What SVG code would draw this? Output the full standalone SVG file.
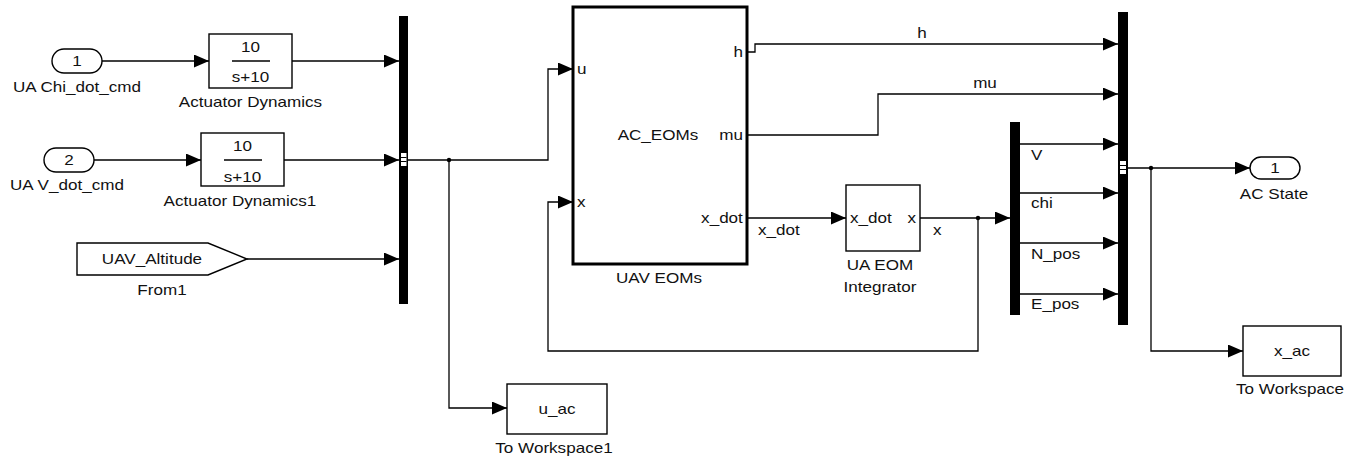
<svg xmlns="http://www.w3.org/2000/svg" width="1360" height="461" viewBox="0 0 1360 461">
<defs>
<marker id="ah" markerUnits="userSpaceOnUse" markerWidth="16" markerHeight="14" refX="15" refY="6.5" orient="auto">
<path d="M0,0 L15,6.5 L0,13 Z" fill="#000"/>
</marker>
<style>
text{font-family:"Liberation Sans",Arial,sans-serif;font-size:14px;fill:#111;dominant-baseline:central;transform-box:fill-box;}
.m{text-anchor:middle;transform-origin:center;transform:scaleX(1.22);}
.s{text-anchor:start;transform-origin:left center;transform:scaleX(1.22);}
.e{text-anchor:end;transform-origin:right center;transform:scaleX(1.22);}
.blk{fill:#fff;stroke:#000;stroke-width:1.4;}
.thick{fill:#fff;stroke:#000;stroke-width:3;}
.bar{fill:#000;}
.ln{fill:none;stroke:#000;stroke-width:1.3;}
.ar{marker-end:url(#ah);}
</style>
</defs>
<rect width="1360" height="461" fill="#fff"/>

<g id="connectors">
<path class="ln ar" d="M102,61 H209"/>
<path class="ln ar" d="M292,61 H399"/>
<path class="ln ar" d="M94,160 H201"/>
<path class="ln ar" d="M284,160 H399"/>
<path class="ln ar" d="M247,259 H399"/>
<path class="ln ar" d="M408,160 H548 V69 H573"/>
<path class="ln ar" d="M449,160 V408 H507"/>
<circle cx="449" cy="160" r="2.2" fill="#000"/>
<path class="ln ar" d="M747,52 H755 V44 H1118"/>
<path class="ln ar" d="M747,135 H878 V94 H1118"/>
<path class="ln ar" d="M747,218 H846"/>
<path class="ln ar" d="M920,218 H1010"/>
<path class="ln ar" d="M978,218 V351 H548 V202 H573"/>
<circle cx="978" cy="218" r="2.2" fill="#000"/>
<path class="ln ar" d="M1020,144 H1118"/>
<path class="ln ar" d="M1020,193 H1118"/>
<path class="ln ar" d="M1020,243 H1118"/>
<path class="ln ar" d="M1020,294 H1118"/>
<path class="ln ar" d="M1128,168 H1250"/>
<path class="ln ar" d="M1151,168 V351 H1243"/>
<circle cx="1151" cy="168" r="2.2" fill="#000"/>
<text class="m" x="922" y="33">h</text>
<text class="m" x="985" y="83">mu</text>
<text class="s" x="758" y="230">x_dot</text>
<text class="s" x="933" y="230">x</text>
<text class="s" x="1031" y="155">V</text>
<text class="s" x="1031" y="203">chi</text>
<text class="s" x="1031" y="254">N_pos</text>
<text class="s" x="1031" y="304">E_pos</text>
</g>

<g id="in1">
<rect class="blk" x="52" y="49" width="50" height="24" rx="12"/>
<text class="m" x="77" y="61">1</text>
<text class="m" x="77" y="87">UA Chi_dot_cmd</text>
</g>

<g id="in2">
<rect class="blk" x="44" y="148" width="50" height="24" rx="12"/>
<text class="m" x="69" y="160">2</text>
<text class="m" x="67" y="185">UA V_dot_cmd</text>
</g>

<g id="act1">
<rect class="blk" x="209" y="34" width="83" height="54"/>
<text class="m" x="250.5" y="47">10</text>
<line x1="232" y1="61" x2="270" y2="61" stroke="#000" stroke-width="1.3"/>
<text class="m" x="250.5" y="77">s+10</text>
<text class="m" x="250.5" y="102">Actuator Dynamics</text>
</g>

<g id="act2">
<rect class="blk" x="201" y="133" width="83" height="53"/>
<text class="m" x="242.5" y="146">10</text>
<line x1="224" y1="160" x2="262" y2="160" stroke="#000" stroke-width="1.3"/>
<text class="m" x="242.5" y="177">s+10</text>
<text class="m" x="240" y="201">Actuator Dynamics1</text>
</g>

<g id="from1">
<path class="blk" d="M77,243 H208 L247,259 L208,275 H77 Z"/>
<text class="m" x="152" y="259">UAV_Altitude</text>
<text class="m" x="162" y="290">From1</text>
</g>

<g id="mux1">
<rect class="bar" x="399" y="16" width="9" height="288"/>
<rect x="401" y="153" width="5.5" height="13" fill="#fff"/>
<line x1="401" y1="157.5" x2="406.5" y2="157.5" stroke="#000" stroke-width="1"/>
<line x1="401" y1="161.5" x2="406.5" y2="161.5" stroke="#000" stroke-width="1"/>
</g>

<g id="uav_eoms">
<rect class="thick" x="573" y="7" width="174" height="257"/>
<text class="s" x="577" y="69">u</text>
<text class="s" x="577" y="202">x</text>
<text class="e" x="743" y="52">h</text>
<text class="e" x="743" y="135">mu</text>
<text class="e" x="743" y="218">x_dot</text>
<text class="m" x="658" y="135">AC_EOMs</text>
<text class="m" x="659" y="278">UAV EOMs</text>
</g>

<g id="integrator">
<rect class="blk" x="846" y="185" width="74" height="66"/>
<text class="s" x="850" y="218">x_dot</text>
<text class="e" x="916" y="218">x</text>
<text class="m" x="880" y="265">UA EOM</text>
<text class="m" x="880" y="287">Integrator</text>
</g>

<g id="demux">
<rect class="bar" x="1010" y="122" width="10" height="193"/>
</g>

<g id="mux2">
<rect class="bar" x="1118" y="12" width="10" height="313"/>
<rect x="1120" y="161" width="6" height="13" fill="#fff"/>
<line x1="1120" y1="165.5" x2="1126" y2="165.5" stroke="#000" stroke-width="1"/>
<line x1="1120" y1="169.5" x2="1126" y2="169.5" stroke="#000" stroke-width="1"/>
</g>

<g id="out1">
<rect class="blk" x="1250" y="157" width="50" height="22" rx="11"/>
<text class="m" x="1275" y="168">1</text>
<text class="m" x="1274" y="194">AC State</text>
</g>

<g id="toworkspace">
<rect class="blk" x="1243" y="326" width="98" height="50"/>
<text class="m" x="1292" y="351">x_ac</text>
<text class="m" x="1290" y="389">To Workspace</text>
</g>

<g id="toworkspace1">
<rect class="blk" x="507" y="384" width="100" height="50"/>
<text class="m" x="557" y="409">u_ac</text>
<text class="m" x="554" y="448">To Workspace1</text>
</g>
</svg>
